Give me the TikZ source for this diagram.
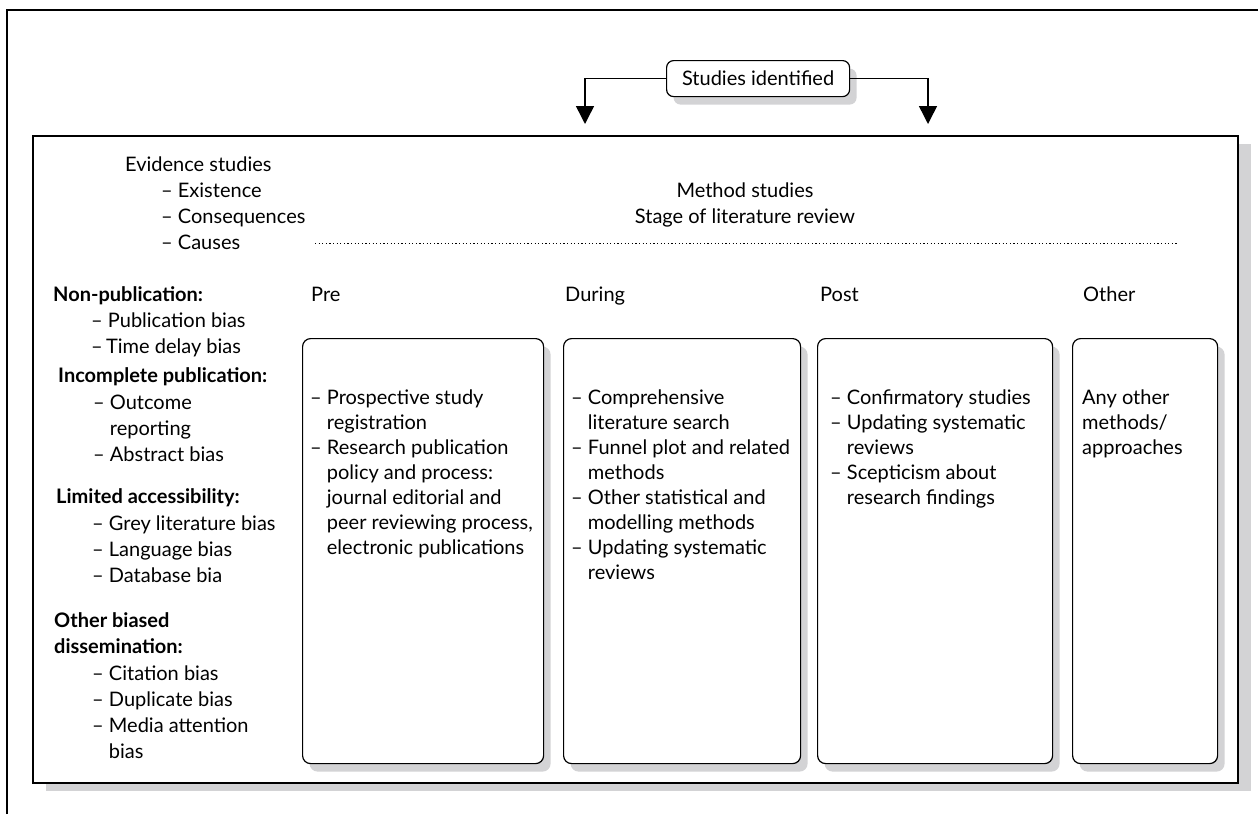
\documentclass[tikz,border=0pt]{standalone}
\usepackage{fontspec}
\setmainfont{Lato}
\usetikzlibrary{arrows.meta,shadows}
\definecolor{shade}{RGB}{211,211,213}
\newcommand{\fsz}{\fontsize{20}{25}\selectfont}
\newcommand{\hg}{\phantom{– }}
\tikzset{
  frameline/.style={line width=1.5pt, draw=black},
  mainbox/.style={draw=black, line width=1.6pt, fill=white, inner sep=0pt,
    drop shadow={shadow xshift=13pt, shadow yshift=-8pt, fill=shade, opacity=1}},
  rbox/.style={draw=black, line width=1.2pt, fill=white, rounded corners=8pt, inner sep=0pt,
    drop shadow={shadow xshift=7pt, shadow yshift=-8pt, fill=shade, opacity=1}},
  txt/.style={inner sep=0pt, anchor=base west, font=\fsz},
  ctxt/.style={inner sep=0pt, anchor=base, font=\fsz},
  btxt/.style={inner sep=0pt, anchor=base west, font=\fsz\bfseries},
  arr/.style={line width=1.5pt, -{Triangle[width=18pt,length=18pt]}},
  dotline/.style={line width=0.9pt, dash pattern=on 1.2pt off 2.4pt},
}
\begin{document}
\begin{tikzpicture}[x=1pt,y=-1pt]
\useasboundingbox (0,0) rectangle (1258,814);
% outer frame (partly cropped)
\draw[frameline] (7,814) -- (7,10) -- (1258,10);
% main box
\node[mainbox, anchor=north west, minimum width=1205pt, minimum height=647pt] (main) at (32,135) {};
% studies identified
\node[rbox, anchor=north west, minimum width=183pt, minimum height=36pt, font=\fsz, rounded corners=7pt] (si) at (666,60) {Studies identified};
\coordinate (tipL) at (585,124);
\coordinate (tipR) at (928,124);
\draw[arr] (si.west) -| (tipL);
\draw[arr] (si.east) -| (tipR);
% top texts
\node[txt] (ev) at (125,171) {Evidence studies};
\node[txt] (ev1) at (161,197) {– Existence};
\node[txt] (ev2) at (161,223) {– Consequences};
\node[txt] (ev3) at (161,249) {– Causes};
\node[ctxt] (ms) at (745,197) {Method studies};
\node[ctxt] (st) at (745,223) {Stage of literature review};
\coordinate (dl1) at (315,243);
\coordinate (dl2) at (1178,243);
\draw[dotline] (dl1) -- (dl2);
% column headers
\node[txt] (hpre) at (311,301) {Pre};
\node[txt] (hdur) at (565,301) {During};
\node[txt] (hpost) at (820,301) {Post};
\node[txt] (hoth) at (1083,301) {Other};
% left column
\node[btxt] (g1) at (53,301) {Non-publication:};
\node[txt] (g1a) at (91,327) {– Publication bias};
\node[txt] (g1b) at (91,353) {–\,Time delay bias};
\node[btxt] (g2) at (58,382) {Incomplete publication:};
\node[txt] (g2a) at (93,409) {– Outcome};
\node[txt] (g2b) at (93,435) {\hg reporting};
\node[txt] (g2c) at (93,461) {– Abstract bias};
\node[btxt] (g3) at (56,503) {Limited accessibility:};
\node[txt] (g3a) at (92,530) {– Grey literature bias};
\node[txt] (g3b) at (92,556) {– Language bias};
\node[txt] (g3c) at (92,582) {– Database bia};
\node[btxt] (g4) at (54,627) {Other biased};
\node[btxt] (g4x) at (54,653) {dissemination:};
\node[txt] (g4a) at (92,680) {– Citation bias};
\node[txt] (g4b) at (92,706) {– Duplicate bias};
\node[txt] (g4c) at (92,732) {– Media attention};
\node[txt] (g4d) at (92,758) {\hg bias};
% inner boxes
\node[rbox, anchor=north west, minimum width=241pt, minimum height=425pt] (pre) at (302,338) {};
\node[rbox, anchor=north west, minimum width=237pt, minimum height=425pt] (dur) at (563,338) {};
\node[rbox, anchor=north west, minimum width=235pt, minimum height=425pt] (post) at (817,338) {};
\node[rbox, anchor=north west, minimum width=145pt, minimum height=425pt] (oth) at (1072,338) {};
% box texts
\foreach \t [count=\i] in {– Prospective study,\hg registration,– Research publication,\hg policy and process:,\hg journal editorial and,\hg {peer reviewing process,},\hg electronic publications}
  \node[txt] (pre\i) at (310,{404+25*(\i-1)}) {\t};
\foreach \t [count=\i] in {– Comprehensive,\hg literature search,– Funnel plot and related,\hg methods,– Other statistical and,\hg modelling methods,– Updating systematic,\hg reviews}
  \node[txt] (dur\i) at (571,{404+25*(\i-1)}) {\t};
\foreach \t [count=\i] in {– Confirmatory studies,– Updating systematic,\hg reviews,– Scepticism about,\hg research findings}
  \node[txt] (post\i) at (830,{404+25*(\i-1)}) {\t};
\foreach \t [count=\i] in {Any other,methods/,approaches}
  \node[txt] (oth\i) at (1082,{404+25*(\i-1)}) {\t};
\end{tikzpicture}
\end{document}
